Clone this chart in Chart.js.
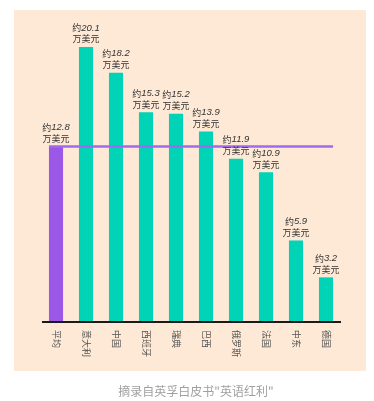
<!DOCTYPE html>
<html>
<head>
<meta charset="utf-8">
<script src="https://cdn.jsdelivr.net/npm/chart.js@4/dist/chart.umd.min.js"></script>
<style>
  html, body { margin: 0; padding: 0; background: #ffffff; }
  #wrap { position: relative; width: 374px; height: 401px; }
  #panel { position: absolute; left: 14px; top: 10px; width: 352px; height: 361px; background: #fde9d5; }
  #chart { position: absolute; left: 0; top: 0; }
  #caption { position: absolute; left: 0; width: 392px; top: 382px; text-align: center;
    font: 12px "Noto Sans CJK SC", sans-serif; color: #a0a0a0; }
</style>
</head>
<body>
<div id="wrap">
  <div id="panel"></div>
  <canvas id="chart" width="374" height="401"></canvas>
  <div id="caption">摘录自英孚白皮书"英语红利"</div>
</div>
<script>
// data (万美元)
const categories = ["平均", "意大利", "中国", "西班牙", "瑞典", "巴西", "俄罗斯", "法国", "中东", "德国"];
const values = [12.8, 20.1, 18.2, 15.3, 15.2, 13.9, 11.9, 10.9, 5.9, 3.2];
const average = 12.8;

const purple = '#9b58e6';
const teal = '#00d3b6';
const barColors = categories.map((c, i) => i === 0 ? purple : teal);

// axis line, average line, value labels and rotated category labels
const decorPlugin = {
    id: 'decor',
    afterDatasetsDraw(chart) {
        const ctx = chart.ctx;
        const x = chart.scales.x;
        const y = chart.scales.y;
        const meta = chart.getDatasetMeta(0);
        const base = y.getPixelForValue(0);

        ctx.save();
        // baseline
        ctx.strokeStyle = '#1a1a1a';
        ctx.lineWidth = 2;
        ctx.beginPath();
        ctx.moveTo(x.left + 1, base + 1);
        ctx.lineTo(x.right, base + 1);
        ctx.stroke();

        // average line
        const first = meta.data[0];
        const last = meta.data[meta.data.length - 1];
        const ay = y.getPixelForValue(average);
        ctx.strokeStyle = '#a268ee';
        ctx.lineWidth = 2.5;
        ctx.beginPath();
        ctx.moveTo(first.x - first.width / 2, ay);
        ctx.lineTo(last.x + last.width / 2, ay);
        ctx.stroke();

        // value labels
        ctx.fillStyle = '#333333';
        ctx.textBaseline = 'middle';
        meta.data.forEach((bar, i) => {
            const top = bar.y;
            const num = values[i].toFixed(1);
            ctx.font = '9px "Noto Sans CJK SC"';
            const w1 = ctx.measureText('约').width;
            ctx.font = 'italic 9.5px "Liberation Sans"';
            const w2 = ctx.measureText(num).width;
            let sx = bar.x - (w1 + w2) / 2;
            ctx.textAlign = 'left';
            ctx.font = '9px "Noto Sans CJK SC"';
            ctx.fillText('约', sx, top - 19);
            ctx.font = 'italic 9.5px "Liberation Sans"';
            ctx.fillText(num, sx + w1, top - 19);
            ctx.textAlign = 'center';
            ctx.font = '9px "Noto Sans CJK SC"';
            ctx.fillText('万美元', bar.x, top - 8);
        });

        // category labels, rotated clockwise
        ctx.fillStyle = '#555555';
        ctx.font = '9px "Noto Sans CJK SC"';
        ctx.textAlign = 'left';
        ctx.textBaseline = 'middle';
        meta.data.forEach((bar, i) => {
            ctx.save();
            ctx.translate(bar.x, base + 9);
            ctx.rotate(Math.PI / 2);
            ctx.fillText(categories[i], 0, 0);
            ctx.restore();
        });
        ctx.restore();
    }
};

new Chart(document.getElementById('chart'), {
    type: 'bar',
    data: {
        labels: categories,
        datasets: [{
            data: values,
            backgroundColor: barColors,
            borderWidth: 0,
            barPercentage: 0.47,
            categoryPercentage: 1
        }]
    },
    options: {
        responsive: false,
        animation: false,
        layout: { padding: { left: 41, right: 33, top: 21, bottom: 80 } },
        plugins: { legend: { display: false }, tooltip: { enabled: false } },
        scales: {
            x: { display: false },
            y: { display: false, min: 0, max: 22 }
        }
    },
    plugins: [decorPlugin]
});
</script>
</body>
</html>
